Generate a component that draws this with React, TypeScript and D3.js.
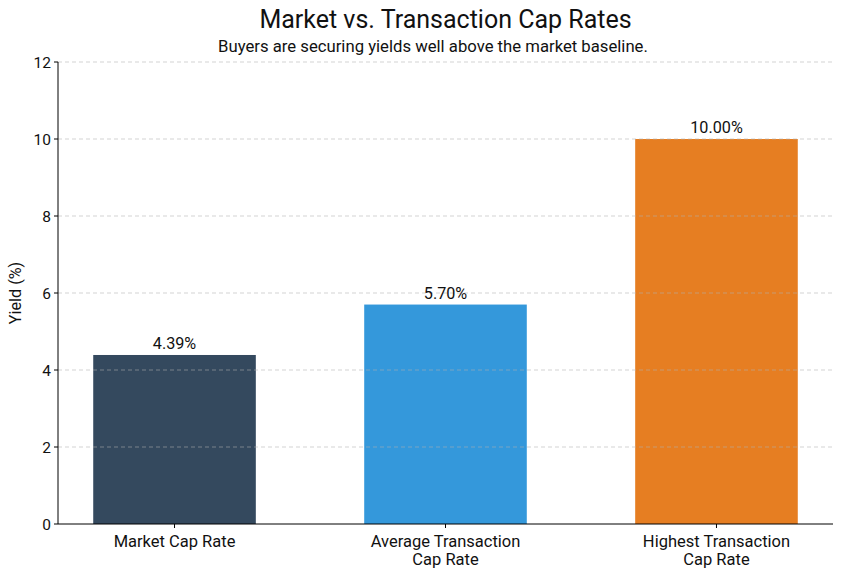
import React from "react";
import * as d3 from "d3";

const categories: string[][] = [["Market Cap Rate"], ["Average Transaction", "Cap Rate"], ["Highest Transaction", "Cap Rate"]];
const values: number[] = [4.39, 5.7, 10.0];
const colors: string[] = ["#34495e", "#3498db", "#e67e22"];
const yTicks: number[] = [0, 2, 4, 6, 8, 10, 12];

const W = 843, H = 578;
const left = 58, right = 833, top = 62, bottom = 524;
const FONT = "Roboto, 'DejaVu Sans', sans-serif";

export default function App() {
  const x = d3.scaleLinear().domain([-0.43, 2.43]).range([left, right]);
  const y = d3.scaleLinear().domain([0, 12]).range([bottom, top]);
  const bw = x(0.3) - x(0);
  return (
    <svg width={W} height={H} style={{ position: "absolute", left: 0, top: 0 }} fontFamily={FONT}>
      <rect width={W} height={H} fill="#fff" />
      {values.map((v, i) => (
        <rect key={i} x={x(i) - bw} width={bw * 2} y={y(v)} height={y(0) - y(v)} fill={colors[i]} />
      ))}
      {yTicks.slice(1).map((t) => (
        <line key={t} x1={left} x2={right} y1={y(t)} y2={y(t)} stroke="#b0b0b0" strokeOpacity={0.7} strokeDasharray="4,3" strokeWidth={0.8} />
      ))}
      {values.map((v, i) => (
        <text key={i} x={x(i)} y={y(v) - 6} textAnchor="middle" fontSize={16.2} fill="#111">{v.toFixed(2)}%</text>
      ))}
      <line x1={left} x2={left} y1={top} y2={bottom} stroke="#000" strokeWidth={1} />
      <line x1={left} x2={right} y1={bottom} y2={bottom} stroke="#000" strokeWidth={1} />
      {yTicks.map((t) => (
        <g key={t}>
          <line x1={left - 4} x2={left} y1={y(t)} y2={y(t)} stroke="#000" />
          <text x={left - 7} y={y(t)} dy="0.36em" textAnchor="end" fontSize={15.5} fill="#111">{t}</text>
        </g>
      ))}
      {categories.map((lines, i) => (
        <g key={i}>
          <line x1={x(i)} x2={x(i)} y1={bottom} y2={bottom + 4} stroke="#000" />
          <text x={x(i)} y={bottom + 23} textAnchor="middle" fontSize={16.5} fill="#111">
            {lines.map((l, j) => (
              <tspan key={j} x={x(i)} dy={j === 0 ? 0 : 18.4}>{l}</tspan>
            ))}
          </text>
        </g>
      ))}
      <text transform={`translate(21,${(top + bottom) / 2}) rotate(-90)`} textAnchor="middle" fontSize={16.2} fill="#111">Yield (%)</text>
      <text x={(left + right) / 2} y={28} textAnchor="middle" fontSize={25} fill="#111">Market vs. Transaction Cap Rates</text>
      <text x={433} y={51.5} textAnchor="middle" fontSize={16.7} fill="#111">Buyers are securing yields well above the market baseline.</text>
    </svg>
  );
}
